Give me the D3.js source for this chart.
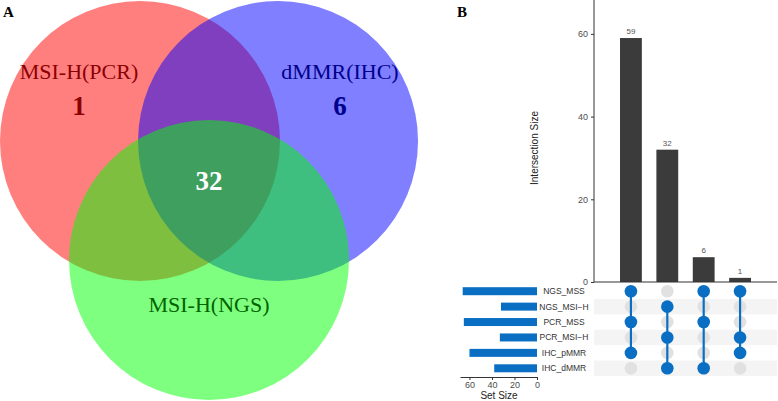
<!DOCTYPE html>
<html><head><meta charset="utf-8">
<script src="https://cdn.jsdelivr.net/npm/d3@7"></script>
<style>html,body{margin:0;padding:0;background:#fff}svg{display:block}</style>
</head><body><svg id="c" width="778" height="401"></svg>
<script>
// ---- Data ----
const vennLabels = ["MSI-H(PCR)", "dMMR(IHC)", "MSI-H(NGS)"];
const vennCounts = [1, 6, 32];          // PCR-only, IHC-only, all three
const setNames = ["NGS_MSS", "NGS_MSI\u2212H", "PCR_MSS", "PCR_MSI\u2212H", "IHC_pMMR", "IHC_dMMR"];
const setSizes = [66, 32, 65, 33, 60, 38];
const interSizes = [59, 32, 6, 1];
const interMembers = [[0, 2, 4], [1, 3, 5], [0, 2, 5], [0, 3, 4]];
const interTicks = [0, 20, 40, 60];
const setTicks = [0, 20, 40, 60];

const svg = d3.select("#c");
const serif = "'Liberation Serif','Times New Roman',serif";
const sans = "'Liberation Sans',Arial,sans-serif";

// ---- Panel A: Venn ----
const vx = d3.scaleLinear().domain([0, 1]).range([0, 140]);   // unit = radius
const circles = [
  {cx: 1, cy: 1.007, fill: "rgba(255,0,0,0.5)"},
  {cx: 1.986, cy: 1.007, fill: "rgba(0,0,255,0.5)"},
  {cx: 1.493, cy: 1.857, fill: "rgba(0,255,0,0.5)"}
];
svg.append("g").selectAll("circle").data(circles).join("circle")
  .attr("cx", d => vx(d.cx)).attr("cy", d => vx(d.cy)).attr("r", vx(1))
  .attr("fill", d => d.fill);

const vtext = [
  {t: vennLabels[0], x: 79, y: 79, size: 22, w: "normal", c: "#8B0000"},
  {t: String(vennCounts[0]), x: 79, y: 115, size: 27, w: "bold", c: "#8B0000"},
  {t: vennLabels[1], x: 340, y: 79, size: 22, w: "normal", c: "#00008B"},
  {t: String(vennCounts[1]), x: 340, y: 115, size: 27, w: "bold", c: "#00008B"},
  {t: String(vennCounts[2]), x: 209, y: 190, size: 27, w: "bold", c: "#ffffff"},
  {t: vennLabels[2], x: 209, y: 312, size: 22, w: "normal", c: "#006400"}
];
svg.append("g").selectAll("text").data(vtext).join("text")
  .attr("x", d => d.x).attr("y", d => d.y).attr("text-anchor", "middle")
  .attr("font-family", serif).attr("font-size", d => d.size).attr("font-weight", d => d.w)
  .attr("fill", d => d.c).text(d => d.t);

svg.append("text").attr("x", 3).attr("y", 17).attr("font-family", serif)
  .attr("font-weight", "bold").attr("font-size", 15).text("A");
svg.append("text").attr("x", 457).attr("y", 17).attr("font-family", serif)
  .attr("font-weight", "bold").attr("font-size", 15).text("B");

// ---- Panel B: UpSet ----
const blue = "#0a6fc2";
const xB = d3.scaleBand().domain(d3.range(interSizes.length)).range([594, 777])
  .paddingInner(0.4).paddingOuter(0.715);
const yB = d3.scaleLinear().domain([0, 68.2]).range([282, 0]);
const rowY = d3.scaleBand().domain(d3.range(setNames.length)).range([283.5, 376]);
const xS = d3.scaleLinear().domain([0, 68.4]).range([537, 460]);

// stripes
svg.append("g").selectAll("rect").data(d3.range(setNames.length).filter(i => i % 2 === 1)).join("rect")
  .attr("x", 594).attr("width", 183).attr("y", i => rowY(i)).attr("height", rowY.bandwidth())
  .attr("fill", "#f4f4f4");

// bars
svg.append("g").selectAll("rect").data(interSizes).join("rect")
  .attr("x", (d, i) => xB(i)).attr("width", xB.bandwidth())
  .attr("y", d => yB(d)).attr("height", d => yB(0) - yB(d)).attr("fill", "#3b3b3b");
svg.append("g").selectAll("text").data(interSizes).join("text")
  .attr("x", (d, i) => xB(i) + xB.bandwidth() / 2).attr("y", d => yB(d) - 4)
  .attr("text-anchor", "middle").attr("font-family", sans).attr("font-size", 8)
  .attr("fill", "#555").text(d => d);

// y axis
const yAx = svg.append("g").attr("transform", "translate(594,0)")
  .call(d3.axisLeft(yB).tickValues(interTicks).tickSize(3).tickPadding(3));
yAx.select(".domain").attr("stroke", "#333").attr("d", "M0,0V282");
yAx.selectAll(".tick line").attr("stroke", "#333");
yAx.selectAll("text").attr("font-family", sans).attr("font-size", 9).attr("fill", "#4d4d4d");
svg.append("line").attr("x1", 594).attr("x2", 777).attr("y1", yB(0)).attr("y2", yB(0))
  .attr("stroke", "#333");
svg.append("text").attr("transform", "translate(538,148) rotate(-90)")
  .attr("text-anchor", "middle").attr("font-family", sans).attr("font-size", 10)
  .attr("fill", "#222").text("Intersection Size");

// matrix
const cx = i => xB(i) + xB.bandwidth() / 2;
const cy = j => rowY(j) + rowY.bandwidth() / 2;
const mg = svg.append("g");
interSizes.forEach((_, i) => {
  mg.selectAll(null).data(setNames.map((s, j) => j)).join("circle")
    .attr("cx", cx(i)).attr("cy", j => cy(j)).attr("r", 6.3)
    .attr("fill", j => interMembers[i].includes(j) ? blue : "#e1e1e1");
  const m = interMembers[i];
  mg.append("line").attr("x1", cx(i)).attr("x2", cx(i))
    .attr("y1", cy(d3.min(m))).attr("y2", cy(d3.max(m)))
    .attr("stroke", blue).attr("stroke-width", 2.2);
});

// set size bars
svg.append("g").selectAll("rect").data(setSizes).join("rect")
  .attr("x", d => xS(d)).attr("width", d => xS(0) - xS(d))
  .attr("y", (d, j) => cy(j) - 4).attr("height", 8).attr("fill", blue);
svg.append("g").selectAll("text").data(setNames).join("text")
  .attr("x", 564).attr("y", (d, j) => cy(j) + 3).attr("text-anchor", "middle")
  .attr("font-family", sans).attr("font-size", 8.5).attr("fill", "#333").text(d => d);

const sAx = svg.append("g").attr("transform", "translate(0,377)")
  .call(d3.axisBottom(xS).tickValues(setTicks).tickSize(3).tickPadding(2).tickSizeOuter(0));
sAx.select(".domain").attr("stroke", "#333");
sAx.selectAll(".tick line").attr("stroke", "#333");
sAx.selectAll("text").attr("font-family", sans).attr("font-size", 9).attr("fill", "#4d4d4d");
svg.append("text").attr("x", 499).attr("y", 399).attr("text-anchor", "middle")
  .attr("font-family", sans).attr("font-size", 10).attr("fill", "#222").text("Set Size");
</script></body></html>
